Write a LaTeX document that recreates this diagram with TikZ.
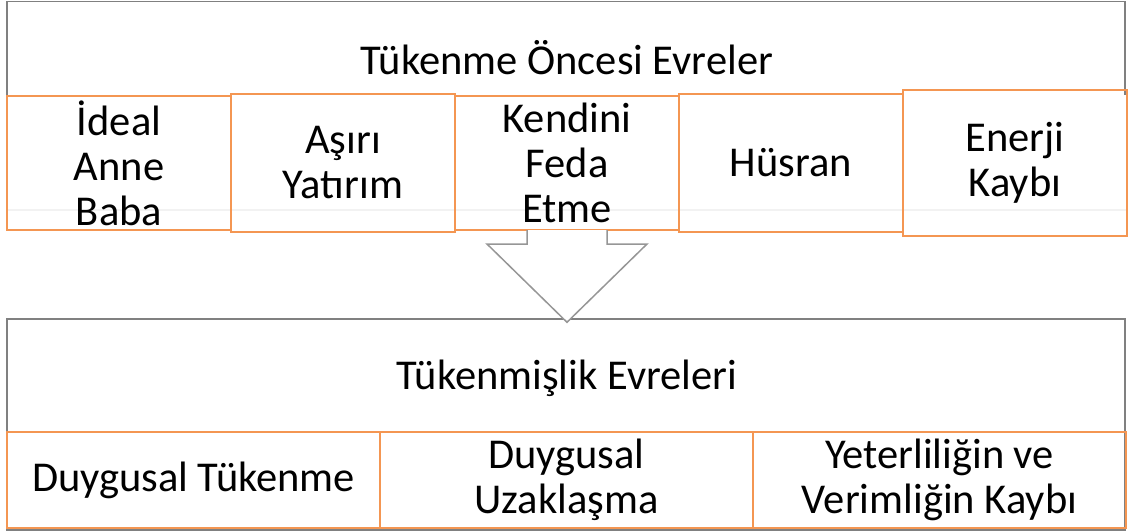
\documentclass[tikz,border=0pt]{standalone}
\usepackage{fontspec}
\setmainfont{Carlito}
\usetikzlibrary{calc,positioning}
\definecolor{turuncu}{RGB}{244,150,82}
\definecolor{cerceve}{RGB}{128,128,128}
\definecolor{okgri}{RGB}{150,150,150}
\tikzset{
  ustkutu/.style={draw=turuncu, line width=2pt, inner sep=0pt, outer sep=0pt,
    align=center, minimum width=224pt},
  altkutu/.style={draw=turuncu, line width=1.5pt, inner sep=0pt, outer sep=0pt,
    align=center, minimum width=373pt, minimum height=96pt},
  ok/.style={draw=okgri, fill=white, line width=1.5pt}
}

\begin{document}
\begin{tikzpicture}[x=1pt,y=-1pt, every node/.style={font=\fontsize{42.5}{45}\selectfont}]
   \useasboundingbox (0,0) rectangle (1131,531);
   % ust cerceve
   \draw[cerceve, line width=1.5] (7,95) |- (1125,1.5) -- (1125,95);
   \draw[black!5, line width=1.2] (7,210) -- (1126,210);
   \node (oncesi) at (567,58) {Tükenme Öncesi Evreler};

   \node[ustkutu, minimum height=134pt] (ideal) at (119,163) {İdeal\\Anne\\Baba};
   \node[ustkutu, minimum height=138pt, right=0pt of ideal] (asiri) {Aşırı\\Yatırım};
   \node[ustkutu, minimum height=134pt, right=0pt of asiri] (feda) {Kendini\\Feda\\Etme};
   \node[ustkutu, minimum height=138pt, right=0pt of feda] (husran) {Hüsran};
   \node[ustkutu, minimum height=146pt, right=0pt of husran] (enerji) {Enerji\\Kaybı};

   % alt cerceve
   \node[draw=cerceve, line width=1.5pt, inner sep=0pt, minimum width=1118pt, minimum height=211pt]
      (alt) at (566,424.5) {};
   \node (evreler) at (567,378) {Tükenmişlik Evreleri};

   \node[altkutu] (tukenme) at (193.5,480) {Duygusal Tükenme};
   \node[altkutu, right=0pt of tukenme] (uzaklasma) {Duygusal\\Uzaklaşma};
   \node[altkutu, right=0pt of uzaklasma] (kayip) {Yeterliliğin ve\\Verimliğin Kaybı};

   % ok
   \coordinate (uc) at ($(feda.south |- alt.north)+(0,4)$);
   \draw[ok] ($(feda.south)+(-40,0)$) -- ++(0,14) -- ++(-40,0) -- (uc)
      -- ($(feda.south)+(80,14)$) -- ++(-40,0) -- ($(feda.south)+(40,0)$);
\end{tikzpicture}
\end{document}
